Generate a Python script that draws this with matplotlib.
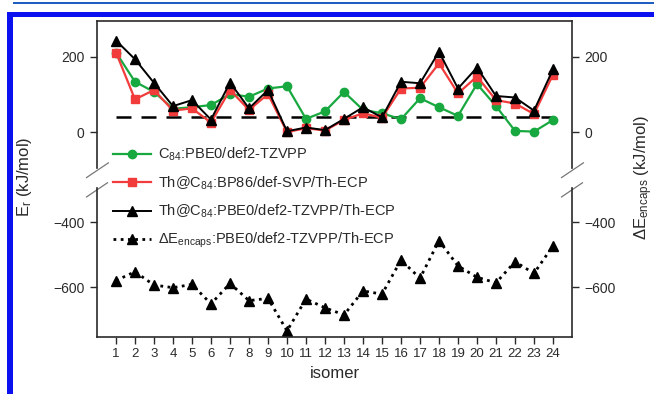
import matplotlib
matplotlib.use("Agg")
import matplotlib.pyplot as plt
from matplotlib.patches import Rectangle

plt.rcParams['font.family'] = ['Liberation Sans', 'DejaVu Sans']
plt.rcParams['mathtext.fontset'] = 'custom'
plt.rcParams['mathtext.rm'] = 'Liberation Sans'
plt.rcParams['mathtext.it'] = 'Liberation Sans:italic'

# isomer numbers
isomers = list(range(1, 25))

# relative energies E_r (kJ/mol)
c84_pbe0 = [212, 134, 107, 62, 66, 72, 101, 94, 116, 122, 35, 55, 107, 59, 50,
            34, 90, 66, 43, 128, 69, 3, 1, 32]
th_bp86 = [212, 87, 112, 57, 63, 25, 112, 59, 101, 0, 10, 4, 32, 50, 38,
           116, 118, 183, 103, 148, 85, 76, 48, 153]
th_pbe0 = [244, 194, 131, 69, 85, 33, 132, 63, 112, 2, 12, 5, 35, 66, 39,
           134, 130, 214, 116, 172, 96, 92, 57, 167]

# encapsulation energies (kJ/mol)
de_encaps = [-580, -553, -594, -602, -592, -652, -589, -642, -635, -735, -637, -664,
             -686, -612, -622, -517, -573, -457, -535, -570, -587, -522, -558, -473]

ref_level = 40

green = '#18a840'
red = '#f23b3b'
axcol = '#2a2a2a'

fig = plt.figure(figsize=(6.54, 3.94), dpi=100)

# page decorations (blue frame)
fig.add_artist(Rectangle((13 / 654, 1 - 4 / 394), 1, 2 / 394, transform=fig.transFigure,
                         color='#1f5fbf', lw=0))
fig.add_artist(Rectangle((7 / 654, 1 - 17 / 394), 1, 5 / 394, transform=fig.transFigure,
                         color='#0a10ee', lw=0))
fig.add_artist(Rectangle((7 / 654, 0), 6 / 654, 1 - 12 / 394, transform=fig.transFigure,
                         color='#0a10ee', lw=0))

left, right = 97 / 654, 572 / 654
ax1 = fig.add_axes([left, 1 - 168 / 394, right - left, (168 - 21) / 394])
ax2 = fig.add_axes([left, 1 - 337 / 394, right - left, (337 - 188) / 394])

ax1.plot(isomers, [ref_level] * len(isomers), color='black', lw=1.8, dashes=(6, 4), zorder=1)
l1, = ax1.plot(isomers, c84_pbe0, color=green, marker='o', ms=6, lw=1.6,
               label='C$_{84}$:PBE0/def2-TZVPP', zorder=2)
l2, = ax1.plot(isomers, th_bp86, color=red, marker='s', ms=6, lw=1.6,
               label='Th@C$_{84}$:BP86/def-SVP/Th-ECP', zorder=3)
l3, = ax1.plot(isomers, th_pbe0, color='black', marker='^', ms=6.5, lw=1.4,
               label='Th@C$_{84}$:PBE0/def2-TZVPP/Th-ECP', zorder=4)
l4, = ax2.plot(isomers, de_encaps, color='black', marker='^', ms=6.5, lw=2,
               linestyle=(0, (1, 1.6)),
               label=r'$\Delta$E$_{\mathrm{encaps}}$:PBE0/def2-TZVPP/Th-ECP')

ax1.set_ylim(-96, 296)
ax2.set_ylim(-754, -295)
for ax in (ax1, ax2):
    ax.set_xlim(0, 25)
    for s in ax.spines.values():
        s.set_color(axcol)
        s.set_linewidth(1.2)
    ax.tick_params(axis='y', direction='out', length=5, width=1, colors=axcol,
                   labelsize=10, left=True, right=True, labelleft=True, labelright=True,
                   pad=4)
ax1.set_yticks([0, 200])
ax2.set_yticks([-600, -400])
ax1.spines['bottom'].set_visible(False)
ax2.spines['top'].set_visible(False)
ax1.set_xticks([])
ax2.set_xticks(isomers)
ax2.tick_params(axis='x', direction='out', length=5, width=1, colors=axcol,
                labelsize=9.5, pad=3)
ax2.set_xlabel('isomer', fontsize=12, color=axcol, labelpad=4)

# break marks: slanted double slash on both side spines
for xb in (0.0, 1.0):
    ax1.plot([xb - 0.022, xb + 0.024], [-0.065, 0.035], transform=ax1.transAxes,
             color='#777777', lw=0.9, clip_on=False)
    ax2.plot([xb - 0.022, xb + 0.022], [0.94, 1.035], transform=ax2.transAxes,
             color='#777777', lw=0.9, clip_on=False)

fig.text(25 / 654, 1 - 177 / 394, r'E$_{\mathrm{r}}$ (kJ/mol)', rotation=90, ha='center',
         va='center', fontsize=12, color=axcol)
fig.text(644 / 654, 1 - 177 / 394, r'$\Delta$E$_{\mathrm{encaps}}$ (kJ/mol)', rotation=90,
         ha='center', va='center', fontsize=12, color=axcol)

fig.legend(handles=[l1, l2, l3, l4], loc='upper left', bbox_to_anchor=(113 / 654, 1 - 146 / 394),
           frameon=False, fontsize=10.5, handlelength=2.6, handletextpad=0.5,
           labelspacing=0.75, borderpad=0, borderaxespad=0, labelcolor=axcol)

fig.savefig('out.png', dpi=100)
